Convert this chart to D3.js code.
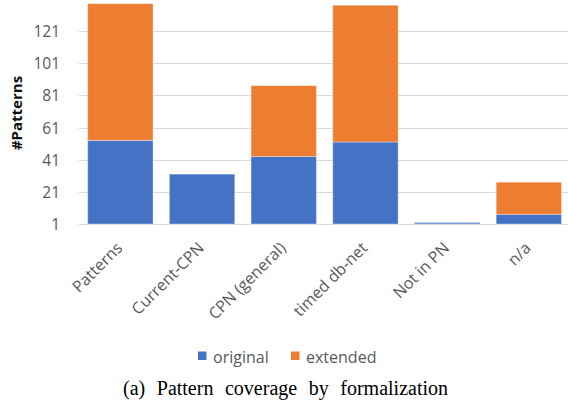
<!DOCTYPE html>
<html>
<head>
<meta charset="utf-8">
<script src="https://cdn.jsdelivr.net/npm/d3@7"></script>
<style>
  html, body { margin: 0; padding: 0; background: #fff; }
  svg { display: block; }
</style>
</head>
<body>
<svg id="chart" width="568" height="409"></svg>
<script>
const categories = ["Patterns", "Current-CPN", "CPN (general)", "timed db-net", "Not in PN", "n/a"];
const originalValues = [53, 32, 43, 52, 1, 7];
const extendedValues = [85, 0, 44, 85, 0, 20];
const seriesNames = ["original", "extended"];
const seriesColors = ["#4472C4", "#ED7D31"];
const yTicks = [1, 21, 41, 61, 81, 101, 121];
const yTitle = "#Patterns";
const caption = "(a) Pattern coverage by formalization";

const svg = d3.select("#chart");
const W = 568, H = 409;
const sans = "'Open Sans', Lato, sans-serif";

const x = d3.scaleBand()
  .domain(categories)
  .range([79.5, 569.7])
  .paddingInner(0.2)
  .paddingOuter(0.1);

const yMin = 1;
const y = d3.scaleLinear().domain([yMin, 121]).range([224, 31]);

// gridlines
svg.append("g")
  .selectAll("line")
  .data(yTicks)
  .join("line")
  .attr("x1", 79)
  .attr("x2", W)
  .attr("y1", d => Math.round(y(d)) + 0.5)
  .attr("y2", d => Math.round(y(d)) + 0.5)
  .attr("stroke", "#D9D9D9")
  .attr("stroke-width", 1.2);

// tick labels
const yAxis = d3.axisLeft(y).tickValues(yTicks).tickSize(0).tickPadding(0);
const ya = svg.append("g").attr("transform", "translate(60,0)").call(yAxis);
ya.select(".domain").remove();
ya.selectAll("text")
  .attr("font-family", sans)
  .attr("font-size", 15.5)
  .attr("fill", "#595959")
  .attr("dy", "0.36em");

// stacked data
const rows = categories.map((c, i) => ({ cat: c, original: originalValues[i], extended: extendedValues[i] }));
const stack = d3.stack().keys(seriesNames)(rows);

const gBars = svg.append("g");
stack.forEach((layer, li) => {
  gBars.append("g")
    .selectAll("rect")
    .data(layer.filter(d => d[1] > d[0]))
    .join("rect")
    .attr("x", d => x(d.data.cat))
    .attr("width", x.bandwidth())
    .attr("y", d => y(Math.max(yMin, d[1])) - (d[1] <= yMin ? 1.5 : 0))
    .attr("height", d => Math.max(1.5, y(Math.max(yMin, d[0])) - y(Math.max(yMin, d[1]))))
    .attr("fill", d => (d[1] <= yMin ? "#7F9ED8" : seriesColors[li]))
    .attr("stroke", "rgba(255,255,255,0.35)")
    .attr("stroke-width", d => (d[1] <= yMin ? 0 : 1));
});

// y title
svg.append("text")
  .attr("transform", `translate(22,113) rotate(-90)`)
  .attr("text-anchor", "middle")
  .attr("font-family", sans)
  .attr("font-weight", "bold")
  .attr("font-size", 15)
  .attr("fill", "#111")
  .text(yTitle);

// category labels
svg.append("g")
  .selectAll("text")
  .data(categories)
  .join("text")
  .attr("transform", d => `translate(${x(d) + x.bandwidth() / 2 + 3},${249}) rotate(-45)`)
  .attr("text-anchor", "end")
  .attr("font-family", sans)
  .attr("font-size", 16)
  .attr("fill", "#595959")
  .text(d => d);

// legend
const legend = svg.append("g");
const legendItems = [{ name: "original", x: 198 }, { name: "extended", x: 291 }];
legendItems.forEach((it, i) => {
  legend.append("rect")
    .attr("x", it.x).attr("y", 351.5)
    .attr("width", 8.5).attr("height", 8.5)
    .attr("fill", seriesColors[i]);
  legend.append("text")
    .attr("x", it.x + 15).attr("y", 362.5)
    .attr("font-family", sans)
    .attr("font-size", 16)
    .attr("fill", "#595959")
    .text(seriesNames[i]);
});

// caption
const cap = svg.append("text")
  .attr("x", 285.5).attr("y", 395)
  .attr("text-anchor", "middle")
  .attr("font-family", "'Liberation Serif', 'Times New Roman', serif")
  .attr("font-size", 20)
  .attr("fill", "#000")
  .text(caption);
const capLen = cap.node().getComputedTextLength();
const spaces = caption.split(" ").length - 1;
const extra = (325 - capLen) / spaces;
if (extra > 0) cap.attr("word-spacing", extra);
</script>
</body>
</html>
